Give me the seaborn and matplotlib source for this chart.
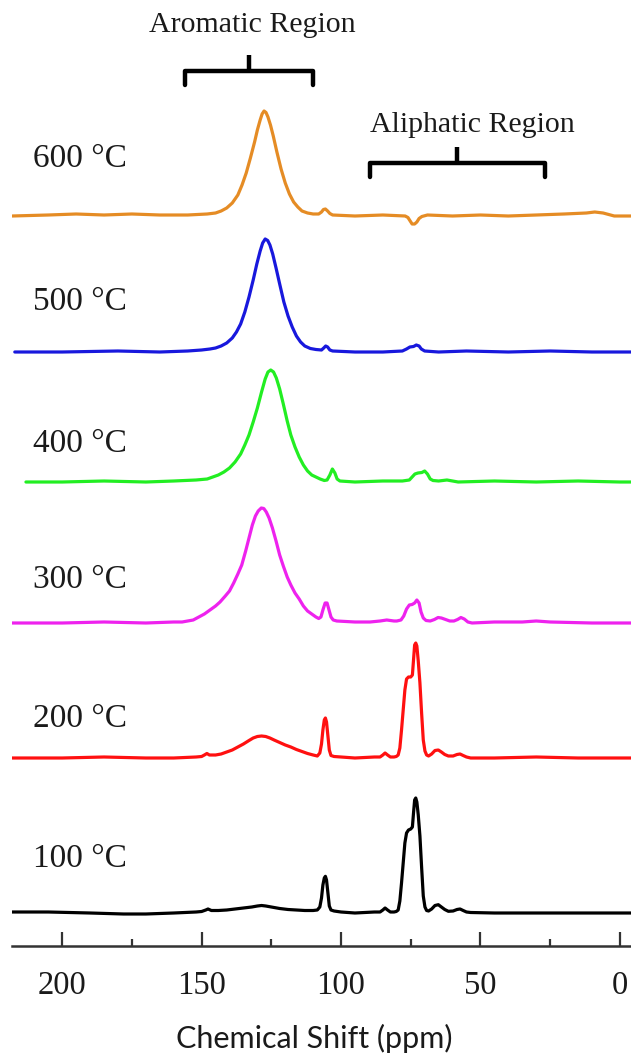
import matplotlib
matplotlib.use("Agg")
import matplotlib.pyplot as plt
from matplotlib.ticker import MultipleLocator
import numpy as np
import pandas as pd
import seaborn as sns

# ---- 13C NMR spectra (ppm, relative intensity) at each carbonisation temperature ----
temps = ["100 °C", "200 °C", "300 °C", "400 °C", "500 °C", "600 °C"]
colors = ["#000000", "#FF1010", "#EE22EE", "#22EE22", "#1818DD", "#E58C25"]

ppm_600 = [218, 205, 195, 185, 175, 165, 155, 148, 145, 143, 141, 139, 137, 135.5, 134, 132.5,
           131, 130, 129, 128.3, 127.6, 126.9, 126.2, 125.3, 124.3, 123, 121.5, 120, 118.5,
           117, 115.5, 114, 112, 110, 108, 107, 106.3, 105.6, 104.8, 104, 103, 95, 85, 77, 76,
           75.2, 74.5, 73.6, 72.8, 72, 71, 69, 60, 50, 40, 30, 20, 12, 9, 6, 2, -4]
int_600 = [0, 1, 2, 1, 2, 1, 1, 2, 3, 5, 8, 13, 21, 31, 43, 58,
           74, 86, 96, 102, 105, 103.5, 99, 91, 80, 64, 47, 33, 22,
           14, 9, 5, 3, 2, 2, 4, 6.5, 7, 5, 2.5, 1, 0, 1, 0, -1.5,
           -5, -8, -8, -6, -2.5, -0.5, 1, 0, 1, 0, 1, 2, 3, 4, 3, 0, 0]

ppm_500 = [217, 200, 180, 165, 155, 150, 147, 145, 143, 141, 139, 137.5, 136, 134.5, 133, 131.5,
           130.2, 129, 128.1, 127.2, 126.3, 125.5, 124.5, 123.3, 122, 120.5, 119, 117.5, 116,
           114.5, 113, 111, 109, 107, 106.2, 105.5, 104.8, 104, 103, 95, 85, 78, 76.5, 75.3,
           74, 73, 72, 71.2, 70, 65, 55, 40, 25, 10, -4]
int_500 = [0, 0, 1, 0, 1, 2, 3, 4, 6, 9, 14, 20, 28, 40, 55, 72,
           88, 101, 109, 113, 111.5, 107, 98, 84, 68, 50, 36, 25, 16,
           10, 6, 3.5, 2.5, 2, 4, 6, 5, 2, 1, 0, 0, 1, 3, 5,
           5.5, 7, 6, 3, 1, 0, 1, 0, 1, 0, 0]

ppm_400 = [213, 200, 185, 170, 160, 152, 148, 146, 144, 142, 140, 138, 136, 134.5, 133, 131.5,
           130, 128.5, 127.2, 126.2, 125.2, 124.2, 123.2, 122, 120.7, 119.3, 118, 116.5, 115,
           113.5, 112, 110.5, 109, 107.5, 106, 105, 104, 103.1, 102.2, 101.4, 100.4, 95, 85,
           78, 75.5, 74.5, 73.5, 72.4, 71, 70, 69, 68, 67, 65, 62, 58, 45, 30, 15, 0, -4]
int_400 = [0, 0, 1, 0, 1, 2, 3, 5, 7, 10, 14, 20, 28, 37, 47, 60,
           74, 90, 103, 110, 112, 110, 104, 93, 78, 61, 47, 35, 25,
           17, 11, 7, 5, 3, 1.5, 2, 7, 13, 9, 3, 1, 0, 1,
           1, 2, 5, 8, 9, 9.5, 11, 8, 3, 1.5, 1, 2, 0, 1, 0, 1, 0, 0]

ppm_300 = [218, 200, 185, 170, 160, 157, 153, 151, 149, 147, 145, 143.4, 141.5, 140, 138.5, 137,
           135.6, 134.2, 133, 131.8, 130.7, 129.7, 128.6, 127.7, 126.8, 125.8, 124.6, 123.3,
           122, 120.7, 119.3, 118, 116.5, 115, 113.5, 112, 110.5, 109, 108, 107.2, 106.5, 105.7,
           105, 104.3, 103.6, 102.8, 101.5, 95, 89.6, 86, 83.6, 81, 80, 78.5, 77.5, 76.5, 75.5,
           74.5, 73.6, 72.8, 72, 71.3, 70.5, 69.5, 68, 66.5, 65.2, 64, 62.5, 61, 59.5, 58.2, 57,
           55.8, 54.5, 53, 45, 35, 30, 25, 10, -4]
int_300 = [0, 0, 1, 0, 1, 1, 3, 6, 9, 13, 17, 21, 27, 32, 40, 49,
           58, 72, 85, 98, 107, 112, 115, 114.5, 111, 105, 95, 82,
           68, 57, 46, 38, 30, 24, 17, 12, 9, 6, 4.5, 6, 13, 20,
           20, 13, 6, 3, 2, 1, 1, 2, 3, 2, 2, 3, 7, 14, 18,
           18.5, 20, 23, 20, 11, 5, 2.5, 2, 3.5, 5.5, 5, 3.5, 2, 2, 3.5, 5.5,
           4, 1, 0, 1, 1, 2, 1, 0, 0]

ppm_200 = [218, 200, 185, 170, 160, 152, 150, 149, 148.1, 147.2, 145, 143, 141, 139, 137, 135,
           133, 131.5, 130, 128.5, 127, 125.5, 124, 122, 120, 118, 116, 114, 112, 110, 108.5,
           107.6, 107, 106.5, 106, 105.6, 105.2, 104.7, 104.2, 103.6, 102.5, 100, 95, 88, 86,
           85, 84.2, 83.3, 82.3, 81, 80.2, 79.5, 78.9, 78.3, 77.7, 77.1, 76.5, 75.8, 75.0,
           74.4, 74.0, 73.6, 73.2, 72.8, 72.3, 71.7, 71.1, 70.5, 69.9, 69.3, 68.6, 67.5, 66.3,
           65.1, 64, 62.8, 61.5, 59.8, 58.4, 57.3, 56.2, 55, 53.5, 45, 30, 15, 0, -4]
int_200 = [0, 0, 1, 0, 0, 1, 1.5, 3, 4.5, 3, 3, 4, 6, 8, 11, 14,
           17.5, 20, 21.5, 22, 21.5, 20, 18, 15.5, 13, 11, 8.5, 6.5, 4.5, 3, 2,
           5, 14, 28, 38, 40, 36, 22, 8, 2.5, 1.5, 1, 0, 1, 1,
           3, 5, 3, 1, 1, 1.5, 3, 10, 28, 48, 68, 79, 81, 81,
           83, 98, 113, 115, 112, 97, 75, 45, 18, 7, 3, 2, 4, 7.5,
           8, 6, 3.5, 2, 2, 3.5, 4, 2.5, 1, 0, 0, 1, 0, 0, 0]

ppm_100 = [218, 205, 190, 178, 170, 160, 152, 150, 148.5, 147.7, 146.5, 144, 141, 138, 135, 132,
           130, 128.5, 127, 125, 122, 119, 116, 113, 110, 108.5, 107.6, 107, 106.5, 106, 105.6,
           105.2, 104.7, 104.2, 103.6, 102.5, 100, 95, 88, 86, 85, 84.2, 83.3, 82.3, 81, 80.2,
           79.5, 78.9, 78.3, 77.7, 77.1, 76.5, 75.8, 75.0, 74.4, 74.0, 73.6, 73.2, 72.8, 72.3,
           71.7, 71.1, 70.5, 69.9, 69.3, 68.6, 67.5, 66.3, 65.1, 64, 62.8, 61.5, 59.8, 58.4,
           57.3, 56.2, 55, 53.5, 45, 30, 15, 0, -4]
int_100 = [1, 1, 0, -1, -1, 0, 1, 1.5, 3, 4, 2.5, 2.5, 3, 4, 5, 6,
           7, 7.5, 7, 6, 4.5, 3.5, 3, 2.5, 2.5, 3, 6, 15, 28, 35, 36.7,
           33, 20, 7, 3, 2, 1, 0, 1, 1, 3, 5, 3, 1, 1, 1.5,
           3, 12, 30, 50, 70, 80, 83, 84, 86, 100, 113, 115, 111, 98,
           77, 46, 17, 6, 2.5, 2, 4, 7.5, 8.3, 6, 3.5, 1.7, 2, 3.5,
           4, 2.5, 1, 0.5, 0, 0, 0, 0, 0]

spectra_ppm = [ppm_100, ppm_200, ppm_300, ppm_400, ppm_500, ppm_600]
spectra_int = [int_100, int_200, int_300, int_400, int_500, int_600]

# vertical stacking of the traces
offsets = [33, 188, 323, 464, 594, 730]
label_y = [79, 219, 358, 494.5, 636, 779]

# region brackets (ppm spans) and their titles
regions = ["Aromatic Region", "Aliphatic Region"]
region_span = [(155.9, 110.0), (89.6, 26.9)]
region_text_x = [131.9, 53.0]

# ---- long-form table for seaborn ----
frames = []
for t, x, y, off in zip(temps, spectra_ppm, spectra_int, offsets):
    frames.append(pd.DataFrame({"ppm": x, "signal": np.asarray(y, float) + off, "temp": t}))
df = pd.concat(frames, ignore_index=True)

sns.set_style("white")
plt.rcParams["font.family"] = ["Liberation Serif", "DejaVu Serif"]

fig = plt.figure(figsize=(6.31, 10.55), dpi=100)
ax = fig.add_axes([12 / 631, 109 / 1055, 619 / 631, 946 / 1055])

sns.lineplot(data=df, x="ppm", y="signal", hue="temp", hue_order=temps,
             palette=dict(zip(temps, colors)), sort=False, estimator=None,
             legend=False, linewidth=2.3, ax=ax)
for line in ax.get_lines():
    line.set_solid_joinstyle("round")
    line.set_solid_capstyle("round")

ax.set_xlim(218, -4)
ax.set_ylim(0, 946)

# temperature labels
for t, ly in zip(temps, label_y):
    ax.text(210.4, ly, t, fontsize=24, color="#1a1a1a", ha="left", va="baseline")

# region brackets with titles
bar_y = [875, 782.7]
drop = 14
stem = 16
text_y = [914.3, 814.3]
for name, (a, b), tx, by, ty in zip(regions, region_span, region_text_x, bar_y, text_y):
    mid = (a + b) / 2
    ax.plot([a, a, b, b], [by - drop, by, by, by - drop], color="black", lw=3.2,
            solid_joinstyle="round", solid_capstyle="round", clip_on=False)
    ax.plot([mid, mid], [by, by + stem], color="black", lw=3.2,
            solid_capstyle="butt", clip_on=False)
    ax.text(tx, ty, name, fontsize=21.5, color="#1a1a1a", ha="center",
            va="baseline", clip_on=False)

# axis styling: bottom spine only, inward ticks
for side in ["top", "left", "right"]:
    ax.spines[side].set_visible(False)
ax.spines["bottom"].set_linewidth(1.8)
ax.spines["bottom"].set_color("#333333")
ax.xaxis.set_major_locator(MultipleLocator(50))
ax.xaxis.set_minor_locator(MultipleLocator(25))
ax.tick_params(axis="x", which="both", bottom=True, top=False)
ax.tick_params(axis="x", which="major", direction="in", length=10, width=1.6,
               color="#333333", pad=18, labelsize=23.5, labelcolor="#1a1a1a")
ax.tick_params(axis="x", which="minor", direction="in", length=5, width=1.6,
               color="#333333")
ax.set_yticks([])
ax.set_ylabel("")
ax.set_xlabel("Chemical Shift (ppm)", fontsize=22, family=["Lato", "DejaVu Sans"],
              color="#1a1a1a")
ax.xaxis.label.set_verticalalignment("baseline")
ax.xaxis.set_label_coords(0.488, -0.1081)

fig.savefig("out.png", dpi=100)
